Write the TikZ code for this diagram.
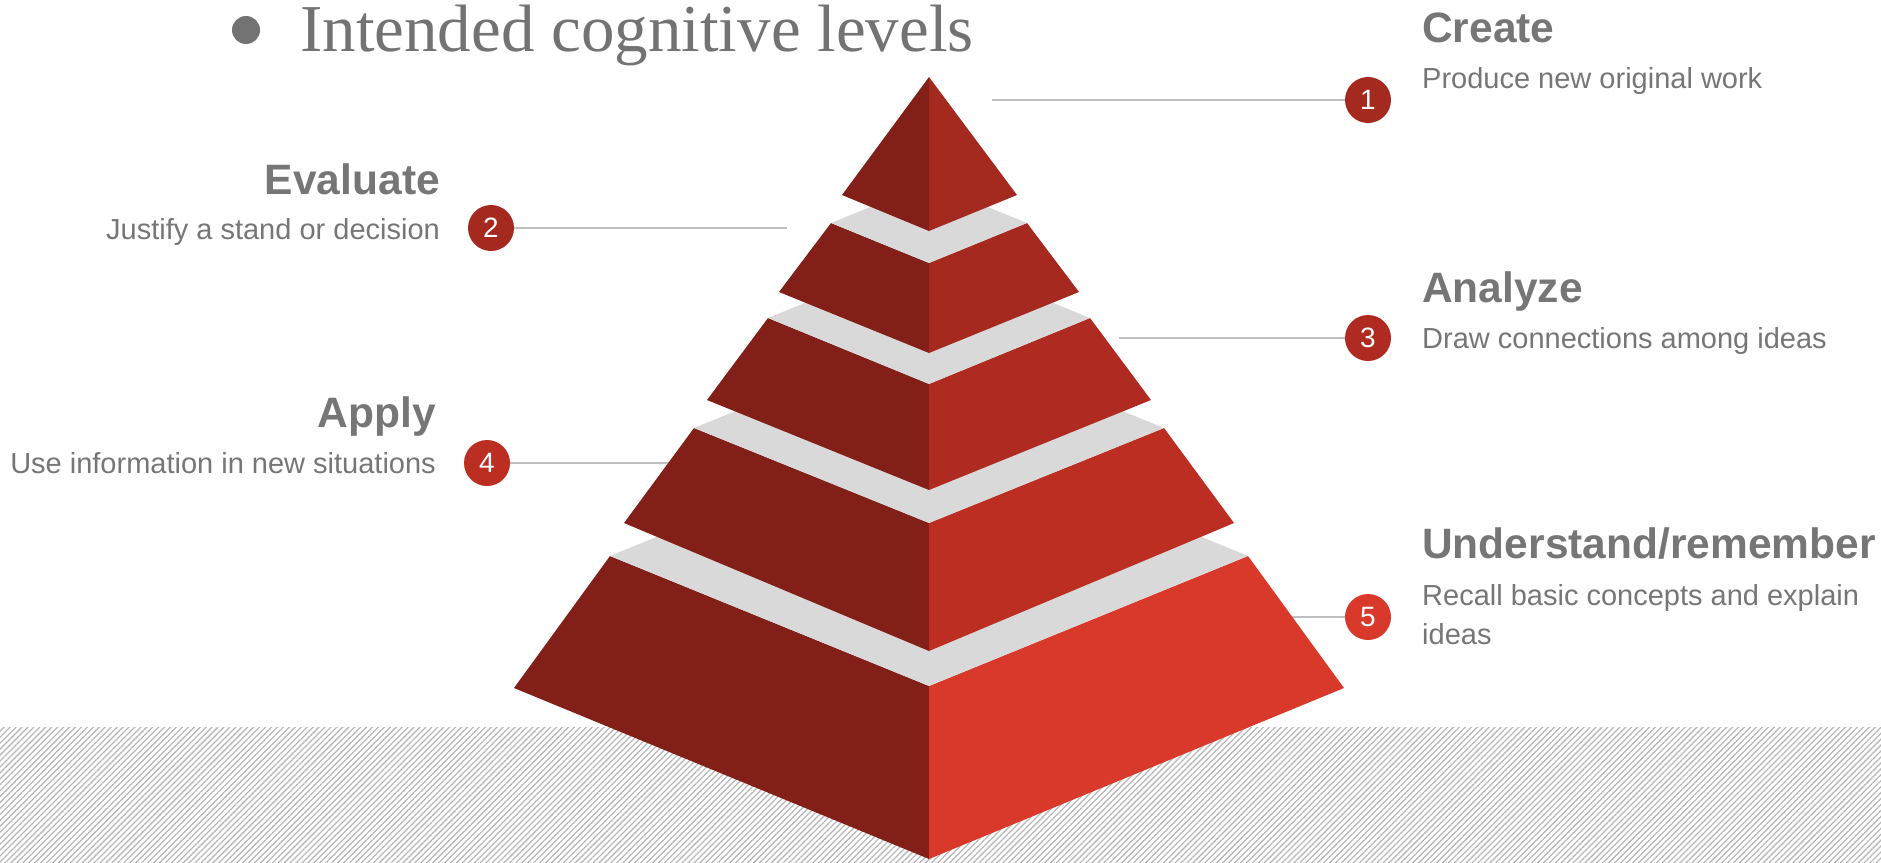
\documentclass[tikz,border=0pt]{standalone}
\usepackage{fontspec}
\setmainfont{Liberation Sans}
\newfontfamily\titlefont{Liberation Serif}
\usetikzlibrary{patterns.meta}
\definecolor{leftred}{HTML}{821F18}
\definecolor{redA}{HTML}{A42A20}
\definecolor{redB}{HTML}{A6291F}
\definecolor{redC}{HTML}{AF2A20}
\definecolor{redD}{HTML}{BD2E22}
\definecolor{redE}{HTML}{D8392A}
\definecolor{band}{HTML}{D9D9D9}
\definecolor{linegray}{HTML}{BFBFBF}
\definecolor{textgray}{HTML}{767676}
\definecolor{titlegray}{HTML}{737373}
\definecolor{hatch}{HTML}{B8B8B8}
\tikzset{
	numdot/.style={circle, inner sep=0pt, minimum size=46pt, text=white, font=\fontsize{28}{28}\selectfont},
	head/.style={inner sep=0pt, text=textgray, font=\fontsize{42.5}{50}\selectfont\bfseries},
	desc/.style={inner sep=0pt, text=textgray, font=\fontsize{29}{36}\selectfont},
	leader/.style={draw=linegray, line width=2pt}
}

\begin{document}
\begin{tikzpicture}[x=1pt, y=-1pt]
		%%%%% START %%%%%
		\useasboundingbox (0,0) rectangle (1881,862);
		
		\fill[pattern={Lines[angle=45, distance=4.2pt, line width=1.3pt]}, pattern color=hatch] (0,727) rectangle (1881,862);
		
		\node[circle, fill=titlegray, minimum size=28pt, inner sep=0pt] (bullet) at (246,30) {};
		\node[anchor=base west, inner sep=0pt, text=titlegray, font=\titlefont\fontsize{67}{72}\selectfont] (title) at (300,51) {Intended cognitive levels};
		
		\node[numdot, fill=redA] (n1) at (1368,100) {\raisebox{-4pt}{1}};
		\node[numdot, fill=redB] (n2) at (491,228) {\raisebox{-4pt}{2}};
		\node[numdot, fill=redC] (n3) at (1368,338) {\raisebox{-4pt}{3}};
		\node[numdot, fill=redD] (n4) at (487,463) {\raisebox{-4pt}{4}};
		\node[numdot, fill=redE] (n5) at (1368,617) {\raisebox{-4pt}{5}};
		
		\coordinate (p1) at (992,100);
		\coordinate (p2) at (787,228);
		\coordinate (p3) at (1119,338);
		\coordinate (p4) at (690,463);
		\coordinate (p5) at (1280,617);
		\draw[leader] (p1) -- (n1);
		\draw[leader] (n2) -- (p2);
		\draw[leader] (p3) -- (n3);
		\draw[leader] (n4) -- (p4);
		\draw[leader] (p5) -- (n5);
		
		% bottom tier
		\fill[leftred] (610,556) -- (929,686) -- (929,859) -- (514,688) -- cycle;
		\fill[redE] (929,686) -- (1248,556) -- (1344,688) -- (929,859) -- cycle;
		\fill[band] (610,556) -- (929,425) -- (1248,556) -- (929,686) -- cycle;
		
		\fill[leftred] (694,428) -- (929,523) -- (929,651) -- (624,523) -- cycle;
		\fill[redD] (929,523) -- (1164,428) -- (1234,523) -- (929,651) -- cycle;
		\fill[band] (694,428) -- (929,332) -- (1164,428) -- (929,523) -- cycle;
		
		\fill[leftred] (768,318) -- (929,384) -- (929,490) -- (707,400) -- cycle;
		\fill[redC] (929,384) -- (1090,318) -- (1151,400) -- (929,490) -- cycle;
		\fill[band] (768,318) -- (929,252) -- (1090,318) -- (929,384) -- cycle;
		
		\fill[leftred] (831,223) -- (929,263) -- (929,353) -- (779,292) -- cycle;
		\fill[redB] (929,263) -- (1027,223) -- (1079,292) -- (929,353) -- cycle;
		\fill[band] (831,223) -- (929,183) -- (1027,223) -- (929,263) -- cycle;
		
		% top
		\fill[leftred] (929,77) -- (929,231) -- (842,195) -- cycle;
		\fill[redA] (929,77) -- (1017,195) -- (929,231) -- cycle;
		
		\node[head, anchor=base west] (create) at (1422,42) {Create};
		\node[desc, anchor=base west] (produce) at (1422,88) {Produce new original work};
		\node[head, anchor=base east] (evaluate) at (440,194) {Evaluate};
		\node[desc, anchor=base east] (justify) at (440,239) {Justify a stand or decision};
		\node[head, anchor=base west] (analyze) at (1422,302) {Analyze};
		\node[desc, anchor=base west] (connect) at (1422,348) {Draw connections among ideas};
		\node[head, anchor=base east] (apply) at (436,427) {Apply};
		\node[desc, anchor=base east] (use) at (436,473) {Use information in new situations};
		\node[head, anchor=base west] (understand) at (1422,558) {Understand/remember};
		\node[desc, anchor=base west] (recall) at (1422,605) {Recall basic concepts and explain};
		\node[desc, anchor=base west] (ideas) at (1422,644) {ideas};
		
		%%%%% END %%%%%
\end{tikzpicture}
\end{document}
